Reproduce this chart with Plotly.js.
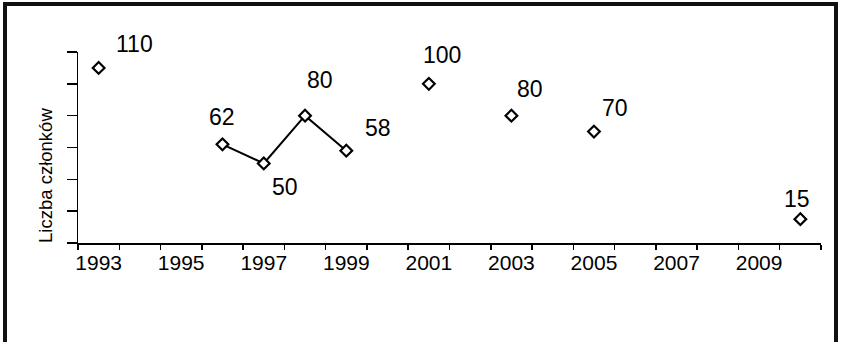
<!DOCTYPE html>
<html>
<head>
<meta charset="utf-8">
<script src="https://cdn.plot.ly/plotly-3.0.1.min.js"></script>
<style>
  html, body { margin: 0; padding: 0; background: #fff; overflow: hidden; }
  #chart { width: 841px; height: 342px; position: absolute; left: 0; top: 0; }
  #frame { position: absolute; left: 3px; top: 2px; width: 827px; height: 400px;
           border-top: 4px solid #111; border-left: 4px solid #111; border-right: 4px solid #111;
           pointer-events: none; }
</style>
</head>
<body>
<div id="chart"></div>
<div id="frame"></div>
<script>
// Data
const years = ['1993','1994','1995','1996','1997','1998','1999','2000','2001',
               '2002','2003','2004','2005','2006','2007','2008','2009','2010'];
const members = [110, null, null, 62, 50, 80, 58, null, 100,
                 null, 80, null, 70, null, null, null, null, 15];
const yAxisTitle = 'Liczba członków';

// Label offsets (pixels) for each non-null point, styling only
const labelShiftX = [36, 0, 21, 15, 32, 13, 19, 21, -3];
const labelShiftY = [24, 27, -24, 36, 23, 29, 27, 24, 20];

const tickText = years.map((y, i) => (i % 2 === 0 ? y : ''));

const font = { family: 'Liberation Sans, Arial, sans-serif', size: 21, color: '#000' };
const labelFont = { family: 'Liberation Sans, Arial, sans-serif', size: 23, color: '#000' };

const annotations = [];
let k = 0;
years.forEach((yr, i) => {
  if (members[i] === null) return;
  annotations.push({
    x: i, y: members[i], xref: 'x', yref: 'y',
    text: String(members[i]), showarrow: false,
    xshift: labelShiftX[k], yshift: labelShiftY[k],
    xanchor: 'center', yanchor: 'middle', font: labelFont
  });
  k++;
});
annotations.push({
  text: yAxisTitle, xref: 'paper', yref: 'paper',
  x: -0.0445, y: 0.356, textangle: -90, showarrow: false,
  xanchor: 'center', yanchor: 'middle',
  font: { family: 'Liberation Sans, Arial, sans-serif', size: 18.5, color: '#000' }
});

const trace = {
  type: 'scatter', mode: 'lines+markers',
  x: years, y: members, connectgaps: false,
  line: { color: '#000', width: 2 },
  marker: { symbol: 'diamond', size: 9, color: '#fff', line: { color: '#000', width: 2.2 } },
  hoverinfo: 'skip'
};

const layout = {
  width: 841, height: 342,
  margin: { l: 78, r: 20, t: 52, b: 99, pad: 0 },
  paper_bgcolor: '#fff', plot_bgcolor: '#fff',
  showlegend: false,
  xaxis: {
    type: 'category', categoryorder: 'array', categoryarray: years,
    range: [-0.5, years.length - 0.5],
    tickmode: 'array', tickvals: years, ticktext: tickText,
    tickson: 'boundaries', ticks: 'outside', ticklen: 5, tickwidth: 1.5, tickcolor: '#000',
    showline: true, linecolor: '#000', linewidth: 1.5,
    showgrid: false, zeroline: false,
    tickfont: font, tickangle: 0, fixedrange: true
  },
  yaxis: {
    range: [0, 120], tickmode: 'linear', tick0: 0, dtick: 20,
    ticks: 'outside', ticklen: 10, tickwidth: 1.5, tickcolor: '#000',
    showticklabels: false,
    showline: true, linecolor: '#000', linewidth: 1.5,
    showgrid: false, zeroline: false, fixedrange: true
  },
  annotations: annotations
};

Plotly.newPlot('chart', [trace], layout, { displayModeBar: false, staticPlot: true });
</script>
</body>
</html>
